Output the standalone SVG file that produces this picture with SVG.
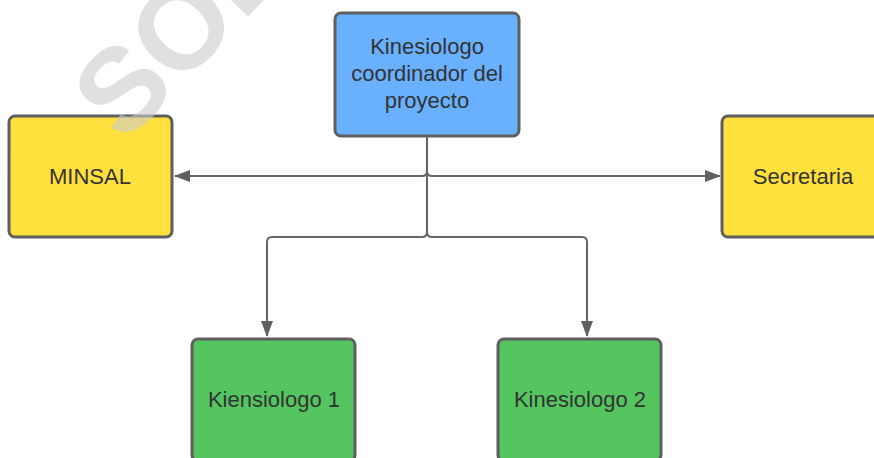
<svg xmlns="http://www.w3.org/2000/svg" width="874" height="458" viewBox="0 0 874 458">
<defs>
<style>
.box{stroke:#5f5f5f;stroke-width:3}
.blue{fill:#69b0ff}
.yellow{fill:#ffe03d}
.green{fill:#54c55f}
.lbl{font-family:"Liberation Sans",Arial,sans-serif;font-size:22px;fill:#333333;text-anchor:middle}
.conn{fill:none;stroke:#666666;stroke-width:2}
.wm{font-family:"Liberation Sans",Arial,sans-serif;font-weight:bold;font-size:118px;fill:#cccccc;fill-opacity:0.6}
</style>
<marker id="arr" viewBox="0 0 16 12" refX="15" refY="6" markerWidth="16" markerHeight="12" markerUnits="userSpaceOnUse" orient="auto">
<path d="M0,0 L16,6 L0,12 Z" fill="#5f5f5f"/>
</marker>
</defs>
<rect width="874" height="458" fill="#ffffff"/>
<g id="connectors">
<path class="conn" d="M427,137 V171 Q427,176 422,176 H175" marker-end="url(#arr)"/>
<path class="conn" d="M427,137 V171 Q427,176 432,176 H720" marker-end="url(#arr)"/>
<path class="conn" d="M427,137 V232 Q427,237 422,237 H272 Q267,237 267,242 V336" marker-end="url(#arr)"/>
<path class="conn" d="M427,137 V232 Q427,237 432,237 H582 Q587,237 587,242 V336" marker-end="url(#arr)"/>
</g>
<g id="coordinador">
<rect class="box blue" x="335" y="13" width="184" height="123" rx="6"/>
<text class="lbl" x="427" y="54">Kinesiologo</text>
<text class="lbl" x="427" y="81">coordinador del</text>
<text class="lbl" x="427" y="108">proyecto</text>
</g>
<g id="minsal">
<rect class="box yellow" x="9" y="116" width="163" height="121" rx="6"/>
<text class="lbl" x="90" y="184">MINSAL</text>
</g>
<g id="secretaria">
<rect class="box yellow" x="722" y="116" width="163" height="121" rx="6"/>
<text class="lbl" x="803" y="184">Secretaria</text>
</g>
<g id="kinesiologo1">
<rect class="box green" x="192" y="339" width="163" height="122" rx="6"/>
<text class="lbl" x="274" y="407">Kiensiologo 1</text>
</g>
<g id="kinesiologo2">
<rect class="box green" x="498" y="339" width="163" height="122" rx="6"/>
<text class="lbl" x="580" y="407">Kinesiologo 2</text>
</g>
<text class="wm" transform="translate(124,145) rotate(-46)">SOL</text>
</svg>
